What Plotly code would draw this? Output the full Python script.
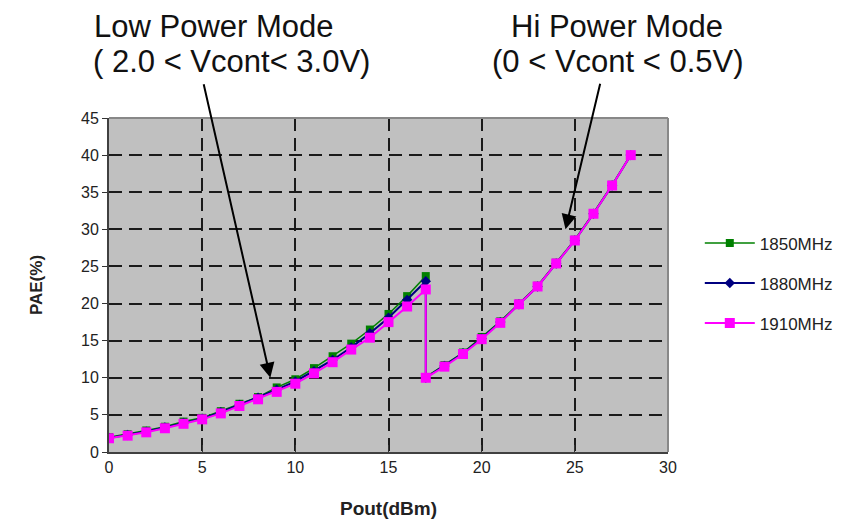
import plotly.graph_objects as go

# ---- data ----
pout_low = list(range(0, 18))          # 0..17 dBm, low power mode
pout_high = list(range(17, 29))        # 17..28 dBm, hi power mode

pae_1850_low = [2.0, 2.4, 2.9, 3.4, 4.1, 4.6, 5.5, 6.5, 7.4, 8.7, 9.8, 11.3, 12.9, 14.6, 16.5, 18.6, 21.0, 23.7]
pae_1880_low = [1.9, 2.3, 2.75, 3.3, 3.9, 4.5, 5.35, 6.35, 7.3, 8.4, 9.5, 10.9, 12.4, 14.1, 16.0, 18.1, 20.5, 23.0]
pae_1910_low = [1.85, 2.2, 2.65, 3.2, 3.8, 4.4, 5.2, 6.2, 7.1, 8.1, 9.2, 10.6, 12.1, 13.8, 15.4, 17.5, 19.6, 21.9]

pae_1850_high = [10.1, 11.7, 13.4, 15.5, 17.6, 20.0, 22.4, 25.5, 28.6, 32.2, 36.0, 40.0]
pae_1880_high = [10.0, 11.6, 13.3, 15.3, 17.5, 19.9, 22.3, 25.4, 28.5, 32.1, 35.9, 40.0]
pae_1910_high = [10.0, 11.5, 13.2, 15.2, 17.4, 19.9, 22.3, 25.4, 28.5, 32.1, 35.9, 40.0]

series_names = ["1850MHz", "1880MHz", "1910MHz"]
x_ticks = [0, 5, 10, 15, 20, 25, 30]
y_ticks = [0, 5, 10, 15, 20, 25, 30, 35, 40, 45]

# ---- figure ----
fig = go.Figure()

styles = [
    dict(color="#008000", symbol="square", size=8, lw=1.5),
    dict(color="#000080", symbol="diamond", size=8, lw=2),
    dict(color="#FF00FF", symbol="square", size=10, lw=2),
]
lows = [pae_1850_low, pae_1880_low, pae_1910_low]
highs = [pae_1850_high, pae_1880_high, pae_1910_high]

for i, name in enumerate(series_names):
    st = styles[i]
    fig.add_trace(go.Scatter(
        x=pout_low + pout_high,
        y=lows[i] + highs[i],
        mode="lines+markers",
        name=name,
        legendgroup=name,
        line=dict(color=st["color"], width=st["lw"]),
        marker=dict(color=st["color"], symbol=st["symbol"], size=st["size"], line=dict(width=0)),
    ))

font_main = "Liberation Sans, Arial, sans-serif"

fig.update_layout(
    width=849, height=524,
    margin=dict(l=109, r=180, t=118, b=72),
    paper_bgcolor="white",
    plot_bgcolor="#C0C0C0",
    font=dict(family=font_main, color="#222222", size=16),
    showlegend=True,
    legend=dict(
        x=1.055, y=0.505, xanchor="left", yanchor="middle",
        font=dict(size=17, color="#222222"),
        traceorder="grouped", tracegroupgap=15,
        itemwidth=50, bgcolor="rgba(0,0,0,0)",
    ),
    xaxis=dict(
        range=[0, 30], tickvals=x_ticks, ticks="inside", ticklen=7, tickcolor="#333333",
        showgrid=True, gridcolor="#1a1a1a", gridwidth=1.5, griddash="13px,7px",
        showline=True, linecolor="#404040", linewidth=2, zeroline=False,
        tickfont=dict(size=16), automargin=False,
        title=dict(text="<b>Pout(dBm)</b>", font=dict(size=19), standoff=26),
    ),
    yaxis=dict(
        range=[0, 45], tickvals=y_ticks, ticks="outside", ticklen=5, tickcolor="#333333",
        showgrid=True, gridcolor="#1a1a1a", gridwidth=1.5, griddash="13px,7px",
        showline=True, linecolor="#404040", linewidth=2, zeroline=False,
        tickfont=dict(size=16), automargin=False,
        title=dict(text="<b>PAE(%)</b>", font=dict(size=17), standoff=34),
    ),
    shapes=[
        dict(type="line", xref="paper", yref="paper", x0=0, x1=1, y0=1, y1=1,
             line=dict(color="#888888", width=2), layer="above"),
        dict(type="line", xref="paper", yref="paper", x0=1, x1=1, y0=0, y1=1,
             line=dict(color="#888888", width=2), layer="above"),
    ],
)

label_font = dict(family=font_main, size=31, color="#111111")
annotations = [
    dict(text="Low Power Mode", x=0.1884, y=1.2725),
    dict(text="( 2.0 < Vcont< 3.0V)", x=0.2188, y=1.170),
    dict(text="Hi Power Mode", x=0.9089, y=1.2725),
    dict(text="(0 < Vcont < 0.5V)", x=0.9098, y=1.170),
]
for a in annotations:
    fig.add_annotation(text=a["text"], x=a["x"], y=a["y"], xref="paper", yref="paper",
                       xanchor="center", yanchor="middle", showarrow=False, font=label_font)

# arrows pointing to the curves
fig.add_annotation(x=8.66, y=10.0, xref="x", yref="y", text="", showarrow=True,
                   ax=-67, ay=-295, arrowhead=2, arrowsize=1.5, arrowwidth=2, arrowcolor="black")
fig.add_annotation(x=24.5, y=30.0, xref="x", yref="y", text="", showarrow=True,
                   ax=35, ay=-147, arrowhead=2, arrowsize=1.5, arrowwidth=2, arrowcolor="black")

fig.write_html("out.html")
